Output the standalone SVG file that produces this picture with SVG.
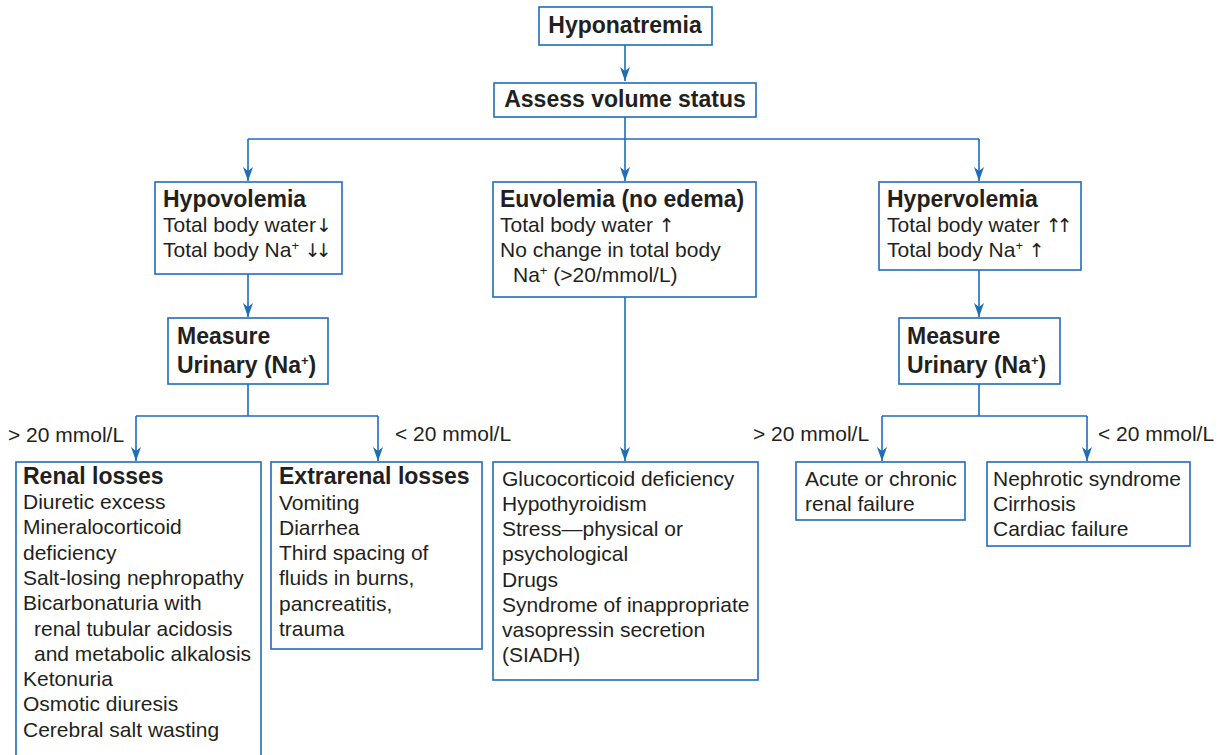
<svg xmlns="http://www.w3.org/2000/svg" width="1226" height="755" viewBox="0 0 1226 755">
<defs>
<marker id="arr" viewBox="0 0 10 14" refX="5" refY="14" markerWidth="10" markerHeight="14" markerUnits="userSpaceOnUse" orient="0">
<path d="M0,0 L5,4 L10,0 L5,14 z" fill="#1f6db5"/>
</marker>
<style>
.box{fill:#fff;stroke:#1f6db5;stroke-width:1.6}
.ln{fill:none;stroke:#1f6db5;stroke-width:1.6}
text{font-family:"Liberation Sans",Arial,sans-serif;fill:#231f20}
.b{font-weight:bold;font-size:23px}
.r{font-size:21px}
.sup{font-size:13px}
.ar{font-family:"DejaVu Sans",sans-serif;font-size:19px}
</style>
</defs>
<rect width="1226" height="755" fill="#fff"/>
<g id="connectors">
<path class="ln" d="M625,45 V81" marker-end="url(#arr)"/>
<path class="ln" d="M625,117 V139 M248,139 H979"/>
<path class="ln" d="M248,139 V181" marker-end="url(#arr)"/>
<path class="ln" d="M625,139 V181" marker-end="url(#arr)"/>
<path class="ln" d="M979,139 V181" marker-end="url(#arr)"/>
<path class="ln" d="M248,274 V317" marker-end="url(#arr)"/>
<path class="ln" d="M248,384 V416 M136,416 H378"/>
<path class="ln" d="M136,416 V461" marker-end="url(#arr)"/>
<path class="ln" d="M378,416 V461" marker-end="url(#arr)"/>
<path class="ln" d="M625,297 V461" marker-end="url(#arr)"/>
<path class="ln" d="M979,270 V317" marker-end="url(#arr)"/>
<path class="ln" d="M979,384 V416 M882,416 H1087"/>
<path class="ln" d="M882,416 V461" marker-end="url(#arr)"/>
<path class="ln" d="M1087,416 V461" marker-end="url(#arr)"/>
<text class="r" x="8" y="442">&gt; 20 mmol/L</text>
<text class="r" x="395" y="441">&lt; 20 mmol/L</text>
<text class="r" x="753" y="441">&gt; 20 mmol/L</text>
<text class="r" x="1098" y="441">&lt; 20 mmol/L</text>
</g>
<g id="hyponatremia">
<rect class="box" x="539" y="7" width="173" height="38"/>
<text class="b" x="625" y="33" text-anchor="middle">Hyponatremia</text>
</g>
<g id="assess">
<rect class="box" x="494" y="83" width="262" height="34"/>
<text class="b" x="625" y="107" text-anchor="middle">Assess volume status</text>
</g>
<g id="hypovolemia">
<rect class="box" x="155" y="182" width="187" height="92"/>
<text class="b" x="163" y="207">Hypovolemia</text>
<text class="r" x="163" y="232">Total body water<tspan class="ar">↓</tspan></text>
<text class="r" x="163" y="257">Total body Na<tspan class="sup" dy="-7">+</tspan><tspan dy="7"> </tspan><tspan class="ar" letter-spacing="-5">↓↓</tspan></text>
</g>
<g id="euvolemia">
<rect class="box" x="493" y="182" width="263" height="115"/>
<text class="b" x="500" y="207">Euvolemia (no edema)</text>
<text class="r" x="500" y="232">Total body water <tspan class="ar">↑</tspan></text>
<text class="r" x="500" y="257">No change in total body</text>
<text class="r" x="513" y="282">Na<tspan class="sup" dy="-7">+</tspan><tspan dy="7"> (&gt;20/mmol/L)</tspan></text>
</g>
<g id="hypervolemia">
<rect class="box" x="879" y="182" width="202" height="88"/>
<text class="b" x="887" y="207">Hypervolemia</text>
<text class="r" x="887" y="232">Total body water <tspan class="ar" letter-spacing="-5">↑↑</tspan></text>
<text class="r" x="887" y="257">Total body Na<tspan class="sup" dy="-7">+</tspan><tspan dy="7"> </tspan><tspan class="ar">↑</tspan></text>
</g>
<g id="measure-left">
<rect class="box" x="168" y="318" width="160" height="66"/>
<text class="b" x="177" y="344">Measure</text>
<text class="b" x="177" y="373">Urinary (Na<tspan class="sup" dy="-8">+</tspan><tspan dy="8">)</tspan></text>
</g>
<g id="measure-right">
<rect class="box" x="899" y="318" width="161" height="66"/>
<text class="b" x="907" y="344">Measure</text>
<text class="b" x="907" y="373">Urinary (Na<tspan class="sup" dy="-8">+</tspan><tspan dy="8">)</tspan></text>
</g>
<g id="renal">
<rect class="box" x="16" y="462" width="245" height="310"/>
<text class="b" x="23" y="484">Renal losses</text>
<text class="r" x="23" y="509">Diuretic excess</text>
<text class="r" x="23" y="534">Mineralocorticoid</text>
<text class="r" x="23" y="560">deficiency</text>
<text class="r" x="23" y="585">Salt-losing nephropathy</text>
<text class="r" x="23" y="610">Bicarbonaturia with</text>
<text class="r" x="34" y="636">renal tubular acidosis</text>
<text class="r" x="34" y="661">and metabolic alkalosis</text>
<text class="r" x="23" y="686">Ketonuria</text>
<text class="r" x="23" y="711">Osmotic diuresis</text>
<text class="r" x="23" y="737">Cerebral salt wasting</text>
</g>
<g id="extrarenal">
<rect class="box" x="271" y="462" width="211" height="187"/>
<text class="b" x="279" y="484">Extrarenal losses</text>
<text class="r" x="279" y="510">Vomiting</text>
<text class="r" x="279" y="535">Diarrhea</text>
<text class="r" x="279" y="560">Third spacing of</text>
<text class="r" x="279" y="585">fluids in burns,</text>
<text class="r" x="279" y="611">pancreatitis,</text>
<text class="r" x="279" y="636">trauma</text>
</g>
<g id="euvolemia-causes">
<rect class="box" x="493" y="462" width="265" height="218"/>
<text class="r" x="502" y="486">Glucocorticoid deficiency</text>
<text class="r" x="502" y="511">Hypothyroidism</text>
<text class="r" x="502" y="536">Stress—physical or</text>
<text class="r" x="502" y="561">psychological</text>
<text class="r" x="502" y="587">Drugs</text>
<text class="r" x="502" y="612">Syndrome of inappropriate</text>
<text class="r" x="502" y="637">vasopressin secretion</text>
<text class="r" x="502" y="662">(SIADH)</text>
</g>
<g id="renal-failure">
<rect class="box" x="796" y="462" width="169" height="58"/>
<text class="r" x="805" y="486">Acute or chronic</text>
<text class="r" x="805" y="511">renal failure</text>
</g>
<g id="nephrotic">
<rect class="box" x="987" y="462" width="203" height="84"/>
<text class="r" x="993" y="486">Nephrotic syndrome</text>
<text class="r" x="993" y="511">Cirrhosis</text>
<text class="r" x="993" y="536">Cardiac failure</text>
</g>
</svg>
